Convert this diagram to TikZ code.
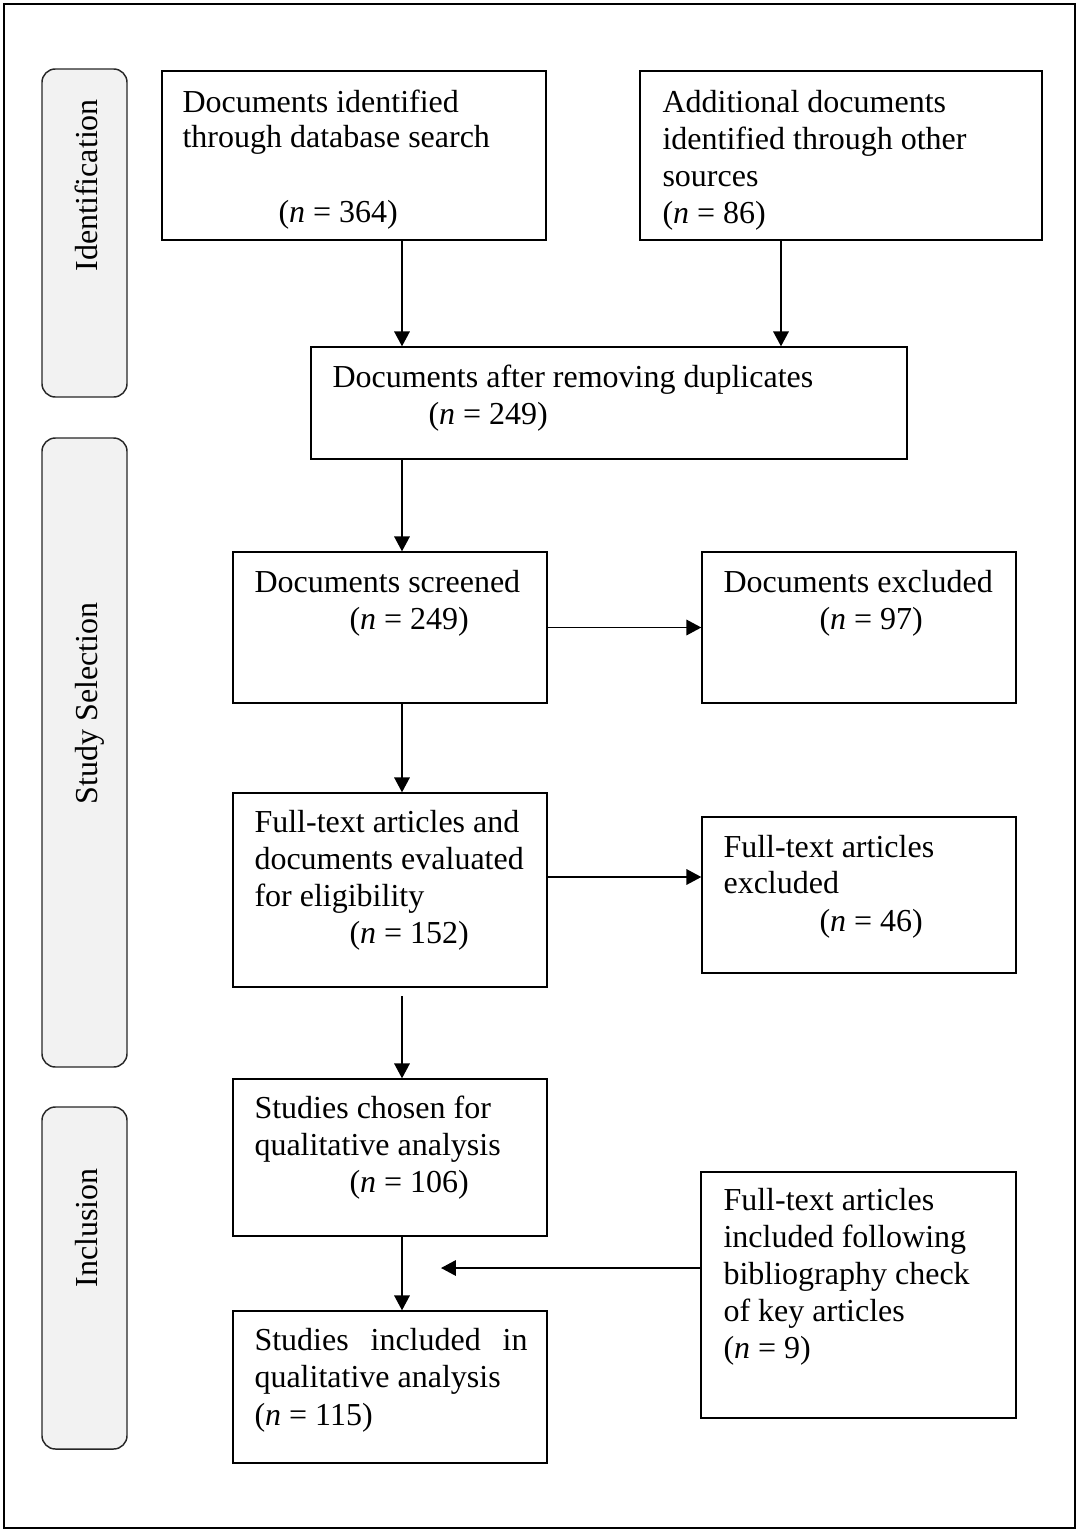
\documentclass[tikz,border=0pt]{standalone}
\usepackage{fontspec}
\setmainfont{Liberation Serif}
\usetikzlibrary{arrows.meta,fit}
\begin{document}
\begin{tikzpicture}[x=0.375pt,y=-0.375pt,
  box/.style={draw=black,line width=0.5pt,inner sep=0pt,fill=white},
  side/.style={draw=black!85,line width=0.55pt,inner sep=0pt,fill=black!5,rounded corners=5pt},
  txt/.style={anchor=base west,inner sep=0pt,font=\fontsize{12}{14}\selectfont},
  sidetxt/.style={anchor=base west,inner sep=0pt,rotate=90,font=\fontsize{12}{14}\selectfont},
  arr/.style={line width=0.7pt,-{Triangle[length=5.6pt,width=5.8pt]}}]
\useasboundingbox (0,0) rectangle (1078,1531);
\node[draw=black,line width=0.8pt,inner sep=0pt,fit={(4,4) (1075,1528)}] (frame) {};

% side panels
\node[side,fit={(42,69) (127,397)}] (S1) {};
\node[side,fit={(42,438) (127,1067)}] (S2) {};
\node[side,fit={(42,1107) (127,1449)}] (S3) {};
\node[sidetxt] (s1t) at (97,272) {Identification};
\node[sidetxt] (s2t) at (97,805) {Study Selection};
\node[sidetxt] (s3t) at (97,1288) {Inclusion};

% boxes
\node[box,fit={(162,71) (546,240)}] (A) {};
\node[box,fit={(640,71) (1042,240)}] (B) {};
\node[box,fit={(311,347) (907,459)}] (C) {};
\node[box,fit={(233,552) (547,703)}] (D) {};
\node[box,fit={(702,552) (1016,703)}] (E) {};
\node[box,fit={(233,793) (547,987)}] (F) {};
\node[box,fit={(702,817) (1016,973)}] (G) {};
\node[box,fit={(233,1079) (547,1236)}] (H) {};
\node[box,fit={(233,1311) (547,1463)}] (I) {};
\node[box,fit={(701,1172) (1016,1418)}] (J) {};

% texts
\node[txt] (a1) at (182,112) {Documents identified};
\node[txt] (a2) at (182,147) {through database search};
\node[txt] (a3) at (278,222) {(\textit{n} = 364)};

\node[txt] (b1) at (662,112) {Additional documents};
\node[txt] (b2) at (662,149) {identified through other};
\node[txt] (b3) at (662,186) {sources};
\node[txt] (b4) at (662,223) {(\textit{n} = 86)};

\node[txt] (c1) at (332,387) {Documents after removing duplicates};
\node[txt] (c2) at (428,424) {(\textit{n} = 249)};

\node[txt] (d1) at (254,592) {Documents screened};
\node[txt] (d2) at (349,629) {(\textit{n} = 249)};

\node[txt] (e1) at (723,592) {Documents excluded};
\node[txt] (e2) at (819,629) {(\textit{n} = 97)};

\node[txt] (f1) at (254,832) {Full-text articles and};
\node[txt] (f2) at (254,869) {documents evaluated};
\node[txt] (f3) at (254,906) {for eligibility};
\node[txt] (f4) at (349,943) {(\textit{n} = 152)};

\node[txt] (g1) at (723,857) {Full-text articles};
\node[txt] (g2) at (723,893) {excluded};
\node[txt] (g3) at (819,931) {(\textit{n} = 46)};

\node[txt] (h1) at (254,1118) {Studies chosen for};
\node[txt] (h2) at (254,1155) {qualitative analysis};
\node[txt] (h3) at (349,1192) {(\textit{n} = 106)};

\node[txt] (i1) at (254,1350) {\makebox[102.4pt][s]{Studies included in}};
\node[txt] (i2) at (254,1387) {qualitative analysis};
\node[txt] (i3) at (254,1425) {(\textit{n} = 115)};

\node[txt] (j1) at (723,1210) {Full-text articles};
\node[txt] (j2) at (723,1247) {included following};
\node[txt] (j3) at (723,1284) {bibliography check};
\node[txt] (j4) at (723,1321) {of key articles};
\node[txt] (j5) at (723,1358) {(\textit{n} = 9)};

% helper coordinates
\coordinate (xL) at (402,0);
\coordinate (xR) at (781,0);
\coordinate (yG) at (0,877);
\coordinate (yFH) at (0,996);
\coordinate (yJ) at (0,1268);
\coordinate (jend) at (441,1268);

% connectors
\draw[arr] (A.south -| xL) -- (C.north -| xL);
\draw[arr] (B.south -| xR) -- (C.north -| xR);
\draw[arr] (C.south -| xL) -- (D.north -| xL);
\draw[arr] (D.east |- D.center) -- (E.west |- D.center);
\draw[arr] (D.south -| xL) -- (F.north -| xL);
\draw[arr] (F.east |- yG) -- (G.west |- yG);
\draw[arr] (xL |- yFH) -- (H.north -| xL);
\draw[arr] (H.south -| xL) -- (I.north -| xL);
\draw[arr] (J.west |- yJ) -- (jend);
\end{tikzpicture}
\end{document}
